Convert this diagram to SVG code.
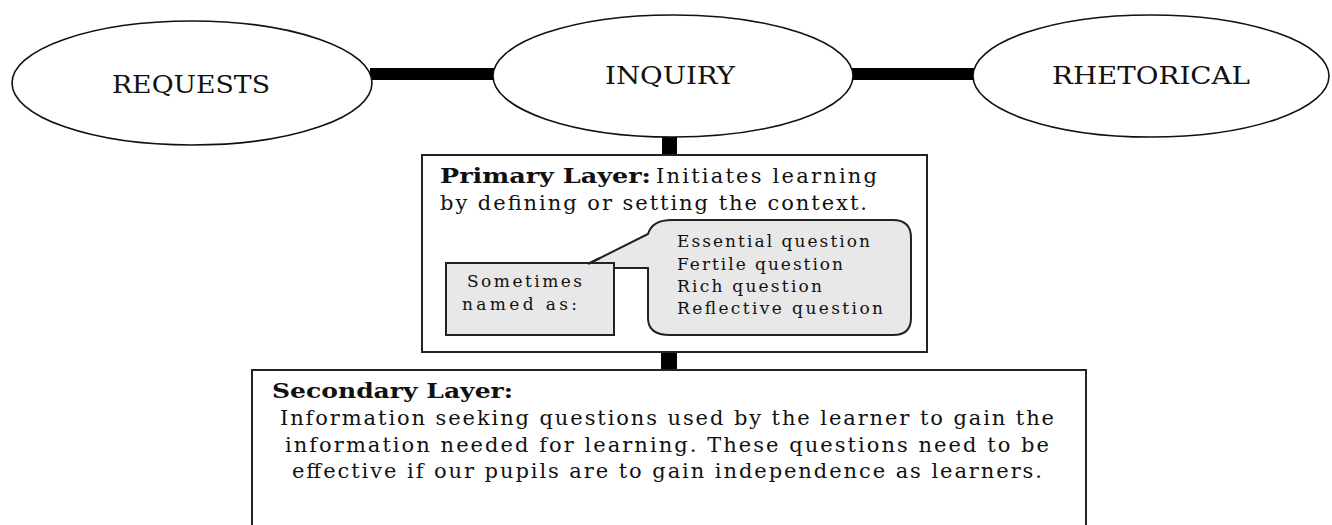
<svg xmlns="http://www.w3.org/2000/svg" width="1332" height="525" viewBox="0 0 1332 525">
<style>
text{font-family:"DejaVu Serif","Liberation Serif",serif;fill:#111}
.ell{fill:#fff;stroke:#111;stroke-width:1.6}
.lbl{font-size:24px}
.box{fill:#fff;stroke:#222;stroke-width:2}
.gray{fill:#e8e8e8;stroke:#222;stroke-width:2}
.body{font-size:21px}
.small{font-size:17px}
.b{font-weight:bold}
.bar{fill:#000}
</style>
<rect width="1332" height="525" fill="#fff"/>
<g id="connectors">
<rect class="bar" x="370" y="68" width="126" height="12"/>
<rect class="bar" x="850" y="68" width="126" height="12"/>
<rect class="bar" x="662" y="135" width="15" height="21"/>
<rect class="bar" x="661" y="351" width="16" height="20"/>
</g>
<g id="requests">
<ellipse class="ell" cx="192" cy="83" rx="180" ry="62"/>
<text class="lbl" x="112" y="93" textLength="158" lengthAdjust="spacingAndGlyphs">REQUESTS</text>
</g>
<g id="inquiry">
<ellipse class="ell" cx="673" cy="76" rx="180" ry="61"/>
<text class="lbl" x="605" y="84" textLength="130" lengthAdjust="spacingAndGlyphs">INQUIRY</text>
</g>
<g id="rhetorical">
<ellipse class="ell" cx="1151" cy="76" rx="178" ry="61"/>
<text class="lbl" x="1052" y="84" textLength="198" lengthAdjust="spacingAndGlyphs">RHETORICAL</text>
</g>
<g id="primary">
<rect class="box" x="422" y="155" width="505" height="197"/>
<text class="body b" x="440" y="183" textLength="211" lengthAdjust="spacingAndGlyphs">Primary Layer:</text>
<text class="body" x="656" y="183" textLength="221" lengthAdjust="spacing">Initiates learning</text>
<text class="body" x="440" y="210" textLength="427" lengthAdjust="spacing">by defining or setting the context.</text>
<path class="gray" d="M588,264 L648,234 Q652,220 672,220 L893,220 Q911,220 911,238 L911,318 Q911,335 893,335 L670,335 Q648,335 648,318 L648,268 L600,268 Z"/>
<rect class="gray" x="446" y="263" width="168" height="72"/>
<path d="M588,264 L600,258" stroke="#222" stroke-width="2" fill="none"/>
<text class="small" x="467" y="287" textLength="115" lengthAdjust="spacing">Sometimes</text>
<text class="small" x="462" y="310" textLength="115" lengthAdjust="spacing">named as:</text>
<text class="small" x="677" y="247" textLength="193" lengthAdjust="spacing">Essential question</text>
<text class="small" x="677" y="270" textLength="166" lengthAdjust="spacing">Fertile question</text>
<text class="small" x="677" y="292" textLength="145" lengthAdjust="spacing">Rich question</text>
<text class="small" x="677" y="314" textLength="206" lengthAdjust="spacing">Reflective question</text>
</g>
<g id="secondary">
<rect class="box" x="252" y="370" width="834" height="170"/>
<text class="body b" x="272" y="398" textLength="241" lengthAdjust="spacingAndGlyphs">Secondary Layer:</text>
<text class="body" x="280" y="425" textLength="774" lengthAdjust="spacing">Information seeking questions used by the learner to gain the</text>
<text class="body" x="285" y="452" textLength="764" lengthAdjust="spacing">information needed for learning. These questions need to be</text>
<text class="body" x="292" y="478" textLength="750" lengthAdjust="spacing">effective if our pupils are to gain independence as learners.</text>
</g>
</svg>
